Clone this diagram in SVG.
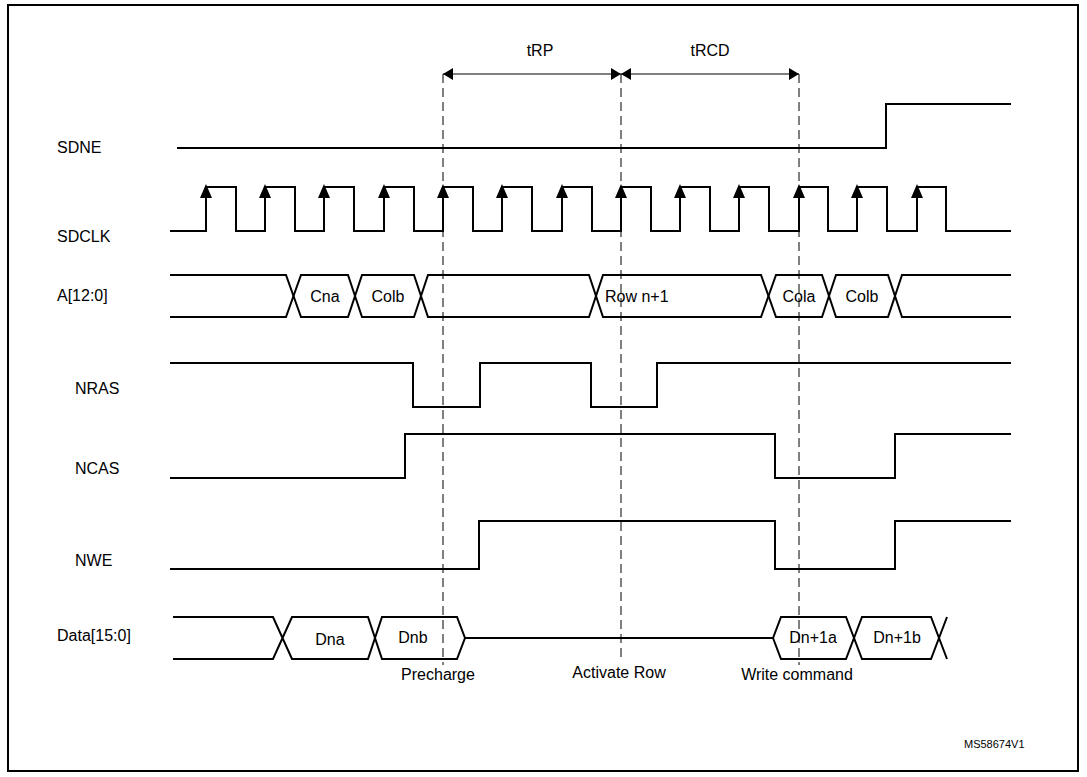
<svg xmlns="http://www.w3.org/2000/svg" width="1087" height="777" viewBox="0 0 1087 777">
<defs>
<marker id="ah" markerWidth="10" markerHeight="12" refX="10" refY="6" orient="auto-start-reverse" markerUnits="userSpaceOnUse"><path d="M0,0 L10,6 L0,12 z" fill="#000"/></marker>
</defs>
<style>
.w{fill:none;stroke:#000;stroke-width:2}
.d{fill:none;stroke:#000;stroke-width:1;stroke-dasharray:9,5}
.t{font-family:"Liberation Sans",Arial,sans-serif;font-size:16px;fill:#000}
.c{text-anchor:middle}
</style>
<rect x="8" y="5" width="1070" height="766" fill="#fff" stroke="#000" stroke-width="2"/>
<g id="labels" class="t">
<text x="57" y="153">SDNE</text>
<text x="57" y="242">SDCLK</text>
<text x="57" y="301">A[12:0]</text>
<text x="75" y="394">NRAS</text>
<text x="75" y="474">NCAS</text>
<text x="75" y="566">NWE</text>
<text x="57" y="641">Data[15:0]</text>
<text class="c" x="540" y="56">tRP</text>
<text class="c" x="710" y="56">tRCD</text>
<text class="c" x="438" y="680">Precharge</text>
<text class="c" x="619" y="678">Activate Row</text>
<text class="c" x="797" y="680">Write command</text>
<text x="964" y="748" style="font-size:11px">MS58674V1</text>
</g>
<g id="connectors">
<line class="d" x1="443" y1="74" x2="443" y2="665"/>
<line class="d" x1="621" y1="74" x2="621" y2="662"/>
<line class="d" x1="799" y1="74" x2="799" y2="665"/>
<line x1="443" y1="74" x2="621" y2="74" stroke="#000" stroke-width="1" marker-start="url(#ah)" marker-end="url(#ah)"/>
<line x1="621" y1="74" x2="799" y2="74" stroke="#000" stroke-width="1" marker-start="url(#ah)" marker-end="url(#ah)"/>
</g>
<g id="SDNE"><path class="w" d="M177,148 H886 V104 H1011"/></g>
<g id="SDCLK">
<path class="w" d="M170,231 H206 V187 H236 V231 H265 V187 H295 V231 H324 V187 H354 V231 H384 V187 H414 V231 H443 V187 H473 V231 H502 V187 H532 V231 H562 V187 H592 V231 H621 V187 H651 V231 H680 V187 H710 V231 H739 V187 H769 V231 H799 V187 H828 V231 H857 V187 H887 V231 H917 V187 H946 V231 H1011"/>
<path d="M200,198 L206,184 L212,198z M259,198 L265,184 L271,198z M318,198 L324,184 L330,198z M378,198 L384,184 L390,198z M437,198 L443,184 L449,198z M496,198 L502,184 L508,198z M556,198 L562,184 L568,198z M615,198 L621,184 L627,198z M674,198 L680,184 L686,198z M733,198 L739,184 L745,198z M793,198 L799,184 L805,198z M851,198 L857,184 L863,198z M911,198 L917,184 L923,198z" fill="#000"/>
</g>
<g id="A">
<path class="w" d="M170,275 H286 L301,317 H348 L362,275 H414 L428,317 H589 L603,275 H761 L776,317 H822 L836,275 H888 L902,317 H1011"/>
<path class="w" d="M170,317 H286 L301,275 H348 L362,317 H414 L428,275 H589 L603,317 H761 L776,275 H822 L836,317 H888 L902,275 H1011"/>
<text class="t c" x="325" y="302">Cna</text>
<text class="t c" x="388" y="302">Colb</text>
<text class="t" x="605" y="302">Row n+1</text>
<text class="t c" x="799" y="302">Cola</text>
<text class="t c" x="862" y="302">Colb</text>
</g>
<g id="NRAS"><path class="w" d="M170,363 H413 V407 H480 V363 H591 V407 H657 V363 H1011"/></g>
<g id="NCAS"><path class="w" d="M170,478 H405 V434 H775 V478 H895 V434 H1011"/></g>
<g id="NWE"><path class="w" d="M170,569 H479 V521 H775 V569 H895 V521 H1011"/></g>
<g id="Data">
<path class="w" d="M173,617 H273 L292,659 H368 L382,617 H457 L465,638 L457,659 H382 L368,617 H292 L273,659 H173"/>
<path class="w" d="M465,638 H773 L781,617 H846 L862,659 H931 L947,617"/>
<path class="w" d="M773,638 L781,659 H846 L862,617 H931 L947,659"/>
<text class="t c" x="330" y="645">Dna</text>
<text class="t c" x="413" y="643">Dnb</text>
<text class="t c" x="813" y="643">Dn+1a</text>
<text class="t c" x="897" y="643">Dn+1b</text>
</g>
</svg>
